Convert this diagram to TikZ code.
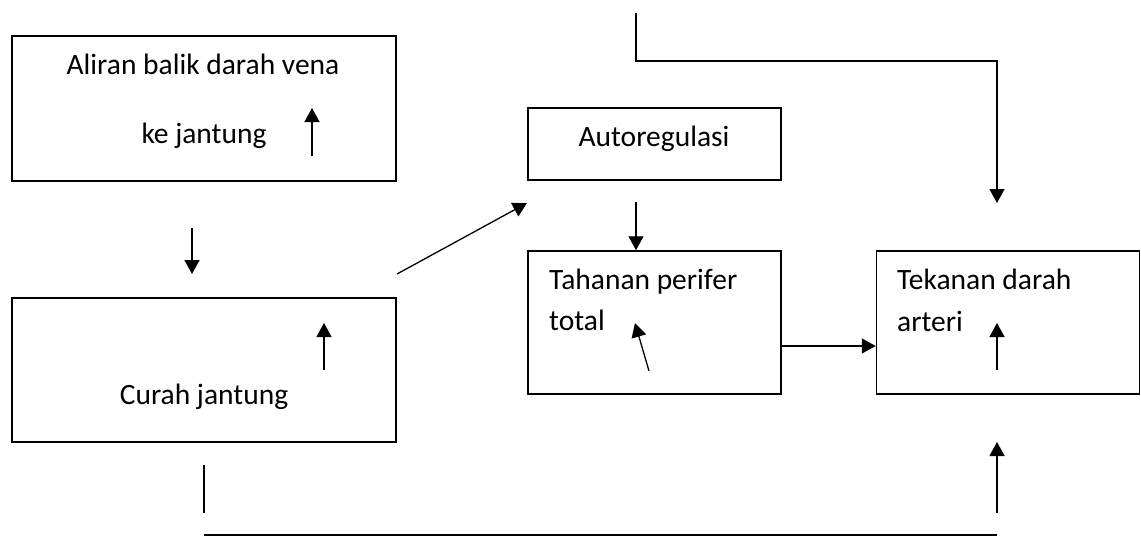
\documentclass[tikz,border=0pt]{standalone}
\usepackage{fontspec}
\setmainfont{Carlito}
\usetikzlibrary{arrows.meta}
\begin{document}
\begin{tikzpicture}[x=1pt,y=-1pt,
  box/.style={draw,line width=1.5pt,inner sep=0pt,minimum width=#1},
  lbl/.style={font=\fontsize{29.5}{32}\selectfont,inner sep=0pt},
  arr/.style={line width=1.3pt,-{Triangle[length=14pt,width=15pt]}},
  ln/.style={line width=1.3pt}]
\useasboundingbox (0,0) rectangle (1141,536);
% boxes
\node[box=384pt,minimum height=145pt] (aliran) at (204,108.5) {};
\node[box=253pt,minimum height=72pt] (auto) at (654.5,144) {};
\node[box=253pt,minimum height=143pt] (tahanan) at (654.5,322.5) {};
\node[box=263pt,minimum height=143pt] (tekanan) at (1008,322.5) {};
\node[box=384pt,minimum height=144pt] (curah) at (204,370) {};
% texts
\node[lbl,anchor=base] (t1) at (203,74) {Aliran balik darah vena};
\node[lbl,anchor=base] (t2) at (204,143) {ke jantung};
\node[lbl,anchor=base] (t3) at (654,146) {Autoregulasi};
\node[lbl,anchor=base west] (t4) at (549,289) {Tahanan perifer};
\node[lbl,anchor=base west] (t5) at (549,330) {total};
\node[lbl,anchor=base west] (t6) at (897,289) {Tekanan darah};
\node[lbl,anchor=base west] (t7) at (897,331) {arteri};
\node[lbl,anchor=base] (t8) at (204,404) {Curah jantung};
% indicator arrows
\coordinate (i1a) at (312,156); \coordinate (i1b) at (312,108);
\coordinate (i2a) at (324,370); \coordinate (i2b) at (324,323);
\coordinate (i3a) at (649,371); \coordinate (i3b) at (635,323);
\coordinate (i4a) at (997,370); \coordinate (i4b) at (997,323);
\draw[arr] (i1a) -- (i1b);
\draw[arr] (i2a) -- (i2b);
\draw[arr] (i3a) -- (i3b);
\draw[arr] (i4a) -- (i4b);
% connectors
\coordinate (c1a) at (192,228); \coordinate (c1b) at (192,274);
\draw[arr] (c1a) -- (c1b);
\coordinate (c2a) at (397,274); \coordinate (c2b) at (527,203);
\draw[arr] (c2a) -- (c2b);
\coordinate (c3a) at (636,202);
\draw[arr] (c3a) -- (tahanan.north -| c3a);
\draw[arr] (tahanan.east |- 0,346) -- (tekanan.west |- 0,346);
\coordinate (top) at (636,13); \coordinate (topend) at (997,203);
\draw[ln,-{Triangle[length=14pt,width=15pt]}] (top) |- (997,61) -- (topend);
\coordinate (b1) at (204,465); \coordinate (b2) at (204,513);
\draw[ln] (b1) -- (b2);
\coordinate (h1) at (204,535); \coordinate (h2) at (997,535);
\draw[ln] (h1) -- (h2);
\coordinate (ua) at (997,513); \coordinate (ub) at (997,442);
\draw[arr] (ua) -- (ub);
\end{tikzpicture}
\end{document}
